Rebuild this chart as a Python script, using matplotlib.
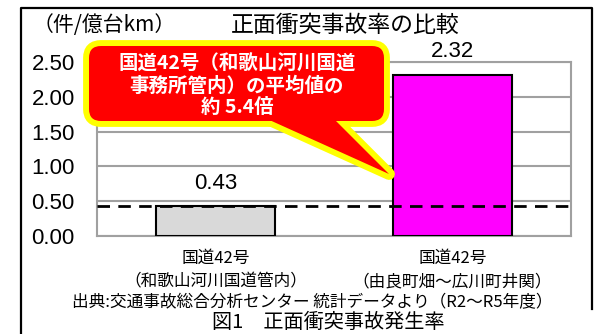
import matplotlib
matplotlib.use("Agg")
import matplotlib.pyplot as plt
from matplotlib.patches import FancyBboxPatch, Polygon
from matplotlib.lines import Line2D

# data
cat_line1 = ["国道42号", "国道42号"]
cat_line2 = ["（和歌山河川国道管内）", "（由良町畑～広川町井関）"]
values = [0.43, 2.32]
bar_colors = ["#D9D9D9", "#FF00FF"]
avg_value = 0.43
yticks = [0.0, 0.5, 1.0, 1.5, 2.0, 2.5]

title = "正面衝突事故率の比較"
unit = "（件/億台km）"
callout = "国道42号（和歌山河川国道\n事務所管内）の平均値の\n約 5.4倍"
source = "出典:交通事故総合分析センター 統計データより（R2～R5年度）"
caption = "図1　正面衝突事故発生率"

JP = ["Noto Sans CJK JP", "DejaVu Sans"]
NUM = ["Liberation Sans", "DejaVu Sans"]
W, H = 596, 334

fig = plt.figure(figsize=(W / 100, H / 100), dpi=100)

# main plot area (pixel box 97..571 x 62..236)
ax = fig.add_axes([97 / W, 1 - 236 / H, 474 / W, 174 / H])
x = list(range(len(values)))
ax.bar(x, values, width=0.5, color=bar_colors, edgecolor="black", linewidth=1.5, zorder=3)
ax.axhline(avg_value, color="black", linewidth=2, linestyle=(0, (4.5, 3)), zorder=4)
ax.set_xlim(-0.5, 1.5)
ax.set_ylim(0, 2.5)
ax.set_yticks(yticks)
ax.set_yticklabels(["%.2f" % v for v in yticks], family=NUM, fontsize=16)
ax.set_xticks(x)
ax.set_xticklabels([])
ax.tick_params(axis="y", length=0, pad=16)
ax.tick_params(axis="x", length=0)
ax.grid(axis="y", color="#A0A0A0", linewidth=1.5, zorder=0)
for s in ax.spines.values():
    s.set_color("#A0A0A0")
    s.set_linewidth(1.5)

# category labels, two lines under each bar
xt = ax.get_xaxis_transform()
for xi, l1, l2 in zip(x, cat_line1, cat_line2):
    ax.text(xi, -0.126, l1, transform=xt, ha="center", va="center", family=JP, fontsize=12)
    ax.text(xi, -0.264, l2, transform=xt, ha="center", va="center", family=JP, fontsize=12)

for xi, v in zip(x, values):
    ax.text(xi, v + 0.33, "%.2f" % v, ha="center", va="center", family=NUM, fontsize=16)

# overlay in pixel coordinates for frame, titles and callout
ov = fig.add_axes([0, 0, 1, 1], zorder=5)
ov.set_xlim(0, W)
ov.set_ylim(H, 0)
ov.axis("off")
ov.patch.set_alpha(0)

ov.add_line(Line2D([21, 21, 592, 592], [334, 8, 8, 309], color="black", linewidth=1.6))

ov.text(104, 25, unit, ha="center", va="center", family=JP, fontsize=15)
ov.text(345, 25, title, ha="center", va="center", family=JP, fontsize=16.5)
ov.text(312, 303, source, ha="center", va="center", family=JP, fontsize=12)
ov.text(328, 323, caption, ha="center", va="center", family=JP, fontsize=14.5)

# callout bubble: yellow outline drawn first, red fill on top
box = dict(xy=(89, 46), width=295, height=75)
tail = [(265, 118), (333, 118), (389, 174)]
ov.add_patch(FancyBboxPatch(box["xy"], box["width"], box["height"],
                            boxstyle="round,pad=0,rounding_size=12",
                            fc="#FFFF00", ec="#FFFF00", lw=8.5))
ov.add_patch(Polygon(tail, closed=True, fc="#FFFF00", ec="#FFFF00", lw=8.5, joinstyle="round"))
ov.add_patch(FancyBboxPatch(box["xy"], box["width"], box["height"],
                            boxstyle="round,pad=0,rounding_size=12",
                            fc="#FF0000", ec="none"))
ov.add_patch(Polygon(tail, closed=True, fc="#FF0000", ec="none"))
ov.text(237, 86, callout, ha="center", va="center", family=JP, fontsize=14,
        fontweight="bold", color="white", linespacing=1.15)

fig.savefig("out.png", dpi=100)
